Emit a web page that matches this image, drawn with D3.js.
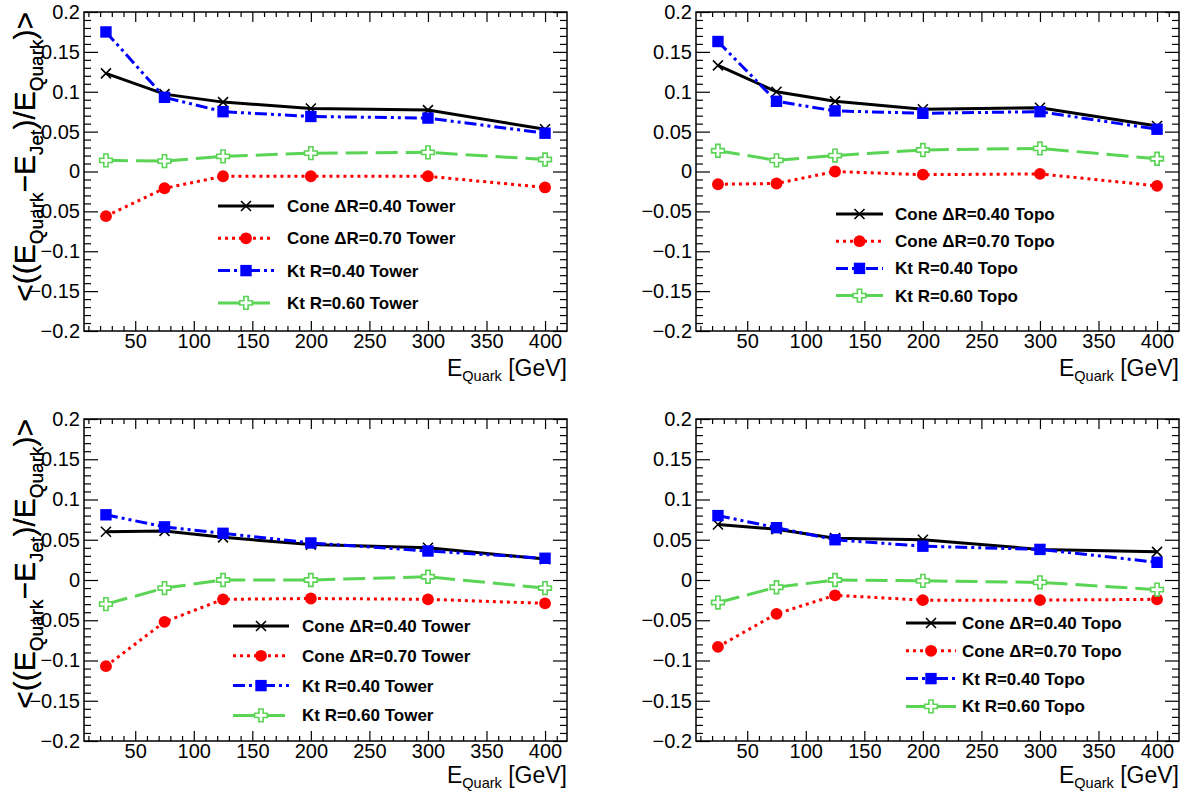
<!DOCTYPE html>
<html>
<head>
<meta charset="utf-8">
<script src="https://cdn.jsdelivr.net/npm/d3@7"></script>
<style>
  body { margin: 0; background: #fff; }
  svg { display: block; font-family: "Liberation Sans", Arial, sans-serif; }
</style>
</head>
<body>
<div id="chart"></div>
<script>
const energies = [25, 75, 125, 200, 300, 400];
const seriesNames = ["Cone \u0394R=0.40", "Cone \u0394R=0.70", "Kt R=0.40", "Kt R=0.60"];
const calibNames = ["Tower", "Topo", "Tower", "Topo"];
const xMajorTicks = [50, 100, 150, 200, 250, 300, 350, 400];
const yMajorTicks = [-0.2, -0.15, -0.1, -0.05, 0, 0.05, 0.1, 0.15, 0.2];
const yTickLabels = ["\u22120.2", "\u22120.15", "\u22120.1", "\u22120.05", "0", "0.05", "0.1", "0.15", "0.2"];

// top left (Tower)
const topTowerCone04 = [0.123, 0.097, 0.087, 0.079, 0.077, 0.053];
const topTowerCone07 = [-0.056, -0.021, -0.006, -0.006, -0.006, -0.020];
const topTowerKt04 = [0.175, 0.093, 0.075, 0.069, 0.067, 0.048];
const topTowerKt06 = [0.014, 0.013, 0.019, 0.023, 0.024, 0.015];

// top right (Topo)
const topTopoCone04 = [0.133, 0.100, 0.088, 0.078, 0.080, 0.057];
const topTopoCone07 = [-0.016, -0.015, 0.000, -0.004, -0.003, -0.018];
const topTopoKt04 = [0.163, 0.088, 0.076, 0.073, 0.075, 0.053];
const topTopoKt06 = [0.026, 0.014, 0.020, 0.027, 0.029, 0.016];

// bottom left (Tower)
const botTowerCone04 = [0.060, 0.061, 0.053, 0.044, 0.040, 0.026];
const botTowerCone07 = [-0.107, -0.052, -0.024, -0.023, -0.024, -0.029];
const botTowerKt04 = [0.081, 0.066, 0.058, 0.046, 0.036, 0.027];
const botTowerKt06 = [-0.030, -0.010, 0.000, 0.000, 0.004, -0.010];

// bottom right (Topo)
const botTopoCone04 = [0.069, 0.063, 0.052, 0.050, 0.038, 0.035];
const botTopoCone07 = [-0.083, -0.042, -0.019, -0.025, -0.025, -0.024];
const botTopoKt04 = [0.080, 0.065, 0.050, 0.042, 0.038, 0.022];
const botTopoKt06 = [-0.028, -0.009, 0.000, -0.001, -0.003, -0.012];

const panelSeries = [
    [topTowerCone04, topTowerCone07, topTowerKt04, topTowerKt06],
    [topTopoCone04, topTopoCone07, topTopoKt04, topTopoKt06],
    [botTowerCone04, botTowerCone07, botTowerKt04, botTowerKt06],
    [botTopoCone04, botTopoCone07, botTopoKt04, botTopoKt06]
];

// ---- layout / style ----
const W = 1194, H = 792;
const pads = [
    {left: 84, top: 12, width: 483, height: 319, titleOff: 45, leg: {x: 218, y: 206, dy: 32.3, len: 56, tx: 287}},
    {left: 696, top: 12, width: 483, height: 319, titleOff: 45, leg: {x: 836, y: 214, dy: 27.2, len: 47, tx: 895}},
    {left: 84, top: 419, width: 483, height: 322, titleOff: 42, leg: {x: 233, y: 626, dy: 29.8, len: 56, tx: 302}},
    {left: 696, top: 419, width: 483, height: 322, titleOff: 42, leg: {x: 906, y: 623, dy: 27.8, len: 50, tx: 962}}
];
const colors = ["#000000", "#ff0000", "#0000ff", "#59d454"];
const dashes = [null, "3,4", "12,4,3,4,3,4", "22,8"];

const svg = d3.select("#chart").append("svg")
    .attr("width", W)
    .attr("height", H);

function drawMarker(g, i, cx, cy) {
    let m = g.append("g").attr("transform", "translate(" + cx + "," + cy + ")");
    if (i === 0) {
        m.append("path").attr("d", "M-5,-5L5,5M-5,5L5,-5")
            .attr("stroke", colors[0]).attr("stroke-width", 1.6).attr("fill", "none");
    } else if (i === 1) {
        m.append("path").attr("d", d3.symbol(d3.symbolCircle, 110)())
            .attr("fill", colors[1]);
    } else if (i === 2) {
        m.append("path").attr("d", d3.symbol(d3.symbolSquare, 130)())
            .attr("fill", colors[2]);
    } else {
        m.append("path").attr("d", d3.symbol(d3.symbolCross, 90)())
            .attr("fill", "#fff").attr("stroke", colors[3]).attr("stroke-width", 1.6);
    }
}

pads.forEach(function(p, pi) {
    let g = svg.append("g").attr("transform", "translate(" + p.left + "," + p.top + ")");

    let x = d3.scaleLinear().domain([6.25, 418.75]).range([0, p.width]);
    let y = d3.scaleLinear().domain([-0.2, 0.2]).range([p.height, 0]);

    let xMinor = d3.range(10, 420, 10).filter(function(v) { return v % 50 !== 0; });
    let yMinor = d3.range(-20, 21, 1).filter(function(v) { return v % 5 !== 0; }).map(function(v) { return v / 100; });

    // bottom axis with labels, ticks pointing in
    g.append("g").attr("class", "axis")
        .attr("transform", "translate(0," + p.height + ")")
        .call(d3.axisBottom(x).tickValues(xMajorTicks).tickSize(-10).tickSizeOuter(0).tickPadding(3))
        .call(function(a) { a.selectAll("text").attr("font-size", 20).attr("fill", "#000"); });
    g.append("g").attr("class", "axis")
        .attr("transform", "translate(0," + p.height + ")")
        .call(d3.axisBottom(x).tickValues(xMinor).tickSize(-5).tickSizeOuter(0).tickFormat(""));
    // top mirror
    g.append("g").attr("class", "axis")
        .call(d3.axisTop(x).tickValues(xMajorTicks).tickSize(-10).tickSizeOuter(0).tickFormat(""));
    g.append("g").attr("class", "axis")
        .call(d3.axisTop(x).tickValues(xMinor).tickSize(-5).tickSizeOuter(0).tickFormat(""));

    // left axis with labels
    g.append("g").attr("class", "axis")
        .call(d3.axisLeft(y).tickValues(yMajorTicks).tickSize(-14).tickSizeOuter(0).tickPadding(4)
            .tickFormat(function(d, i) { return yTickLabels[i]; }))
        .call(function(a) { a.selectAll("text").attr("font-size", 20).attr("fill", "#000"); });
    g.append("g").attr("class", "axis")
        .call(d3.axisLeft(y).tickValues(yMinor).tickSize(-7).tickSizeOuter(0).tickFormat(""));
    // right mirror
    g.append("g").attr("class", "axis")
        .attr("transform", "translate(" + p.width + ",0)")
        .call(d3.axisRight(y).tickValues(yMajorTicks).tickSize(-14).tickSizeOuter(0).tickFormat(""));
    g.append("g").attr("class", "axis")
        .attr("transform", "translate(" + p.width + ",0)")
        .call(d3.axisRight(y).tickValues(yMinor).tickSize(-7).tickSizeOuter(0).tickFormat(""));

    g.selectAll(".axis .domain").remove();
    g.selectAll(".axis line").attr("stroke", "#000").attr("stroke-width", 1.2);

    // frame
    g.append("rect")
        .attr("width", p.width).attr("height", p.height)
        .attr("fill", "none").attr("stroke", "#000").attr("stroke-width", 1.5);

    // axis titles
    let xt = g.append("text")
        .attr("x", p.width).attr("y", p.height + p.titleOff)
        .attr("text-anchor", "end").attr("font-size", 23);
    xt.append("tspan").text("E");
    xt.append("tspan").attr("font-size", 14.5).attr("dy", 5).text("Quark");
    xt.append("tspan").attr("dy", -5).text(" [GeV]");

    let yt = g.append("text")
        .attr("transform", "translate(" + (35 - p.left) + ",0) rotate(-90)")
        .attr("text-anchor", "end").attr("font-size", 30);
    yt.append("tspan").text("<((E");
    yt.append("tspan").attr("font-size", 19).attr("dy", 8).text("Quark");
    yt.append("tspan").attr("dy", -8).text("\u2212E");
    yt.append("tspan").attr("font-size", 19).attr("dy", 8).text("Jet");
    yt.append("tspan").attr("dy", -8).text(")/E");
    yt.append("tspan").attr("font-size", 19).attr("dy", 8).text("Quark");
    yt.append("tspan").attr("dy", -8).text(")>");

    // series
    let line = d3.line()
        .x(function(d, i) { return x(energies[i]); })
        .y(function(d) { return y(d); });

    panelSeries[pi].forEach(function(vals, si) {
        g.append("path")
            .datum(vals)
            .attr("d", line)
            .attr("fill", "none")
            .attr("stroke", colors[si])
            .attr("stroke-width", 3)
            .attr("stroke-dasharray", dashes[si]);
    });
    panelSeries[pi].forEach(function(vals, si) {
        vals.forEach(function(v, i) {
            drawMarker(g, si, x(energies[i]), y(v));
        });
    });

    // legend
    let leg = svg.append("g");
    seriesNames.forEach(function(name, si) {
        let ly = p.leg.y + si * p.leg.dy;
        leg.append("line")
            .attr("x1", p.leg.x).attr("x2", p.leg.x + p.leg.len)
            .attr("y1", ly).attr("y2", ly)
            .attr("stroke", colors[si]).attr("stroke-width", 3)
            .attr("stroke-dasharray", dashes[si]);
        drawMarker(leg, si, p.leg.x + p.leg.len / 2, ly);
        leg.append("text")
            .attr("x", p.leg.tx).attr("y", ly + 6)
            .attr("font-size", 17).attr("font-weight", "bold")
            .text(name + " " + calibNames[pi]);
    });
});
</script>
</body>
</html>
